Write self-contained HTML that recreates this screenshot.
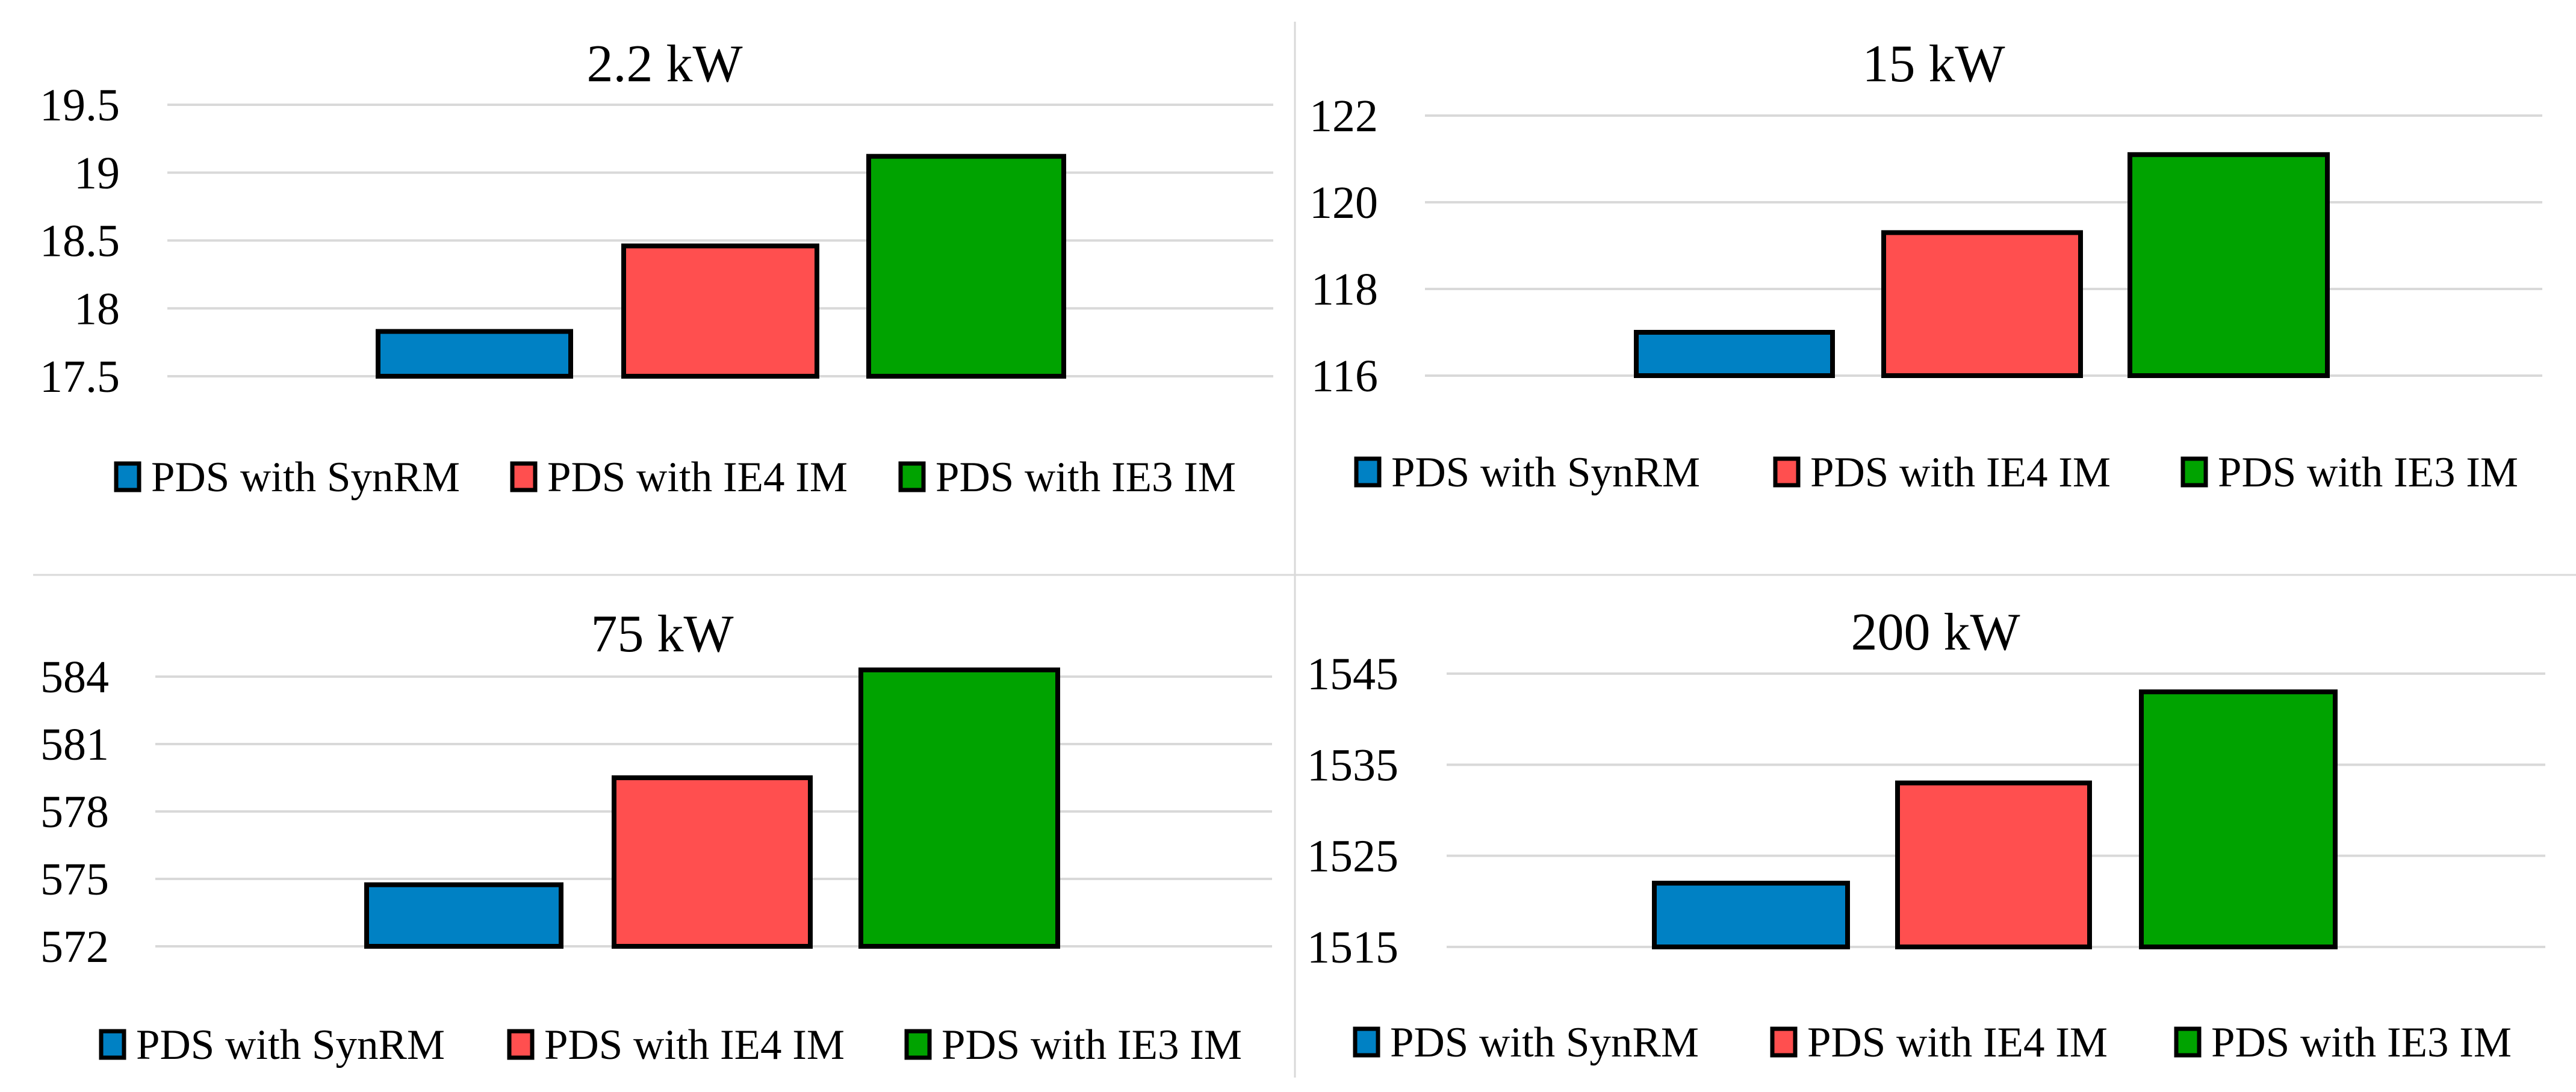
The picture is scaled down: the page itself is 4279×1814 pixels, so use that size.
<!DOCTYPE html>
<html><head><meta charset="utf-8"><style>
html,body{margin:0;padding:0;background:#fff;}
svg{display:block;}
svg text{font-family:"Liberation Serif","DejaVu Serif",serif;}
</style></head>
<body>
<svg id="chart" width="4279" height="1814" viewBox="0 0 4279 1814" xmlns="http://www.w3.org/2000/svg" font-family="Liberation Serif, serif">
<rect x="0" y="0" width="4279" height="1814" fill="#fff"/>
<line x1="2151" y1="36" x2="2151" y2="1790" stroke="#d9d9d9" stroke-width="3"/>
<line x1="55" y1="955" x2="4279" y2="955" stroke="#d9d9d9" stroke-width="3"/>
</svg>
<script>
var titles = ["2.2 kW", "15 kW", "75 kW", "200 kW"];
var seriesNames = ["PDS with SynRM", "PDS with IE4 IM", "PDS with IE3 IM"];
var seriesColors = ["#0081c4", "#ff4f4f", "#00a300"];
var values22 = [17.83, 18.46, 19.12];
var values15 = [117.0, 119.3, 121.1];
var values75 = [574.74, 579.5, 584.3];
var values200 = [1522, 1533, 1543];
var ticks22 = [17.5, 18, 18.5, 19, 19.5];
var ticks15 = [116, 118, 120, 122];
var ticks75 = [572, 575, 578, 581, 584];
var ticks200 = [1515, 1525, 1535, 1545];

var NS = "http://www.w3.org/2000/svg";
var svg = document.getElementById("chart");
var FONT = "'Liberation Serif', 'DejaVu Serif', serif";
function mk(tag, attrs, parent) {
  var e = document.createElementNS(NS, tag);
  for (var k in attrs) e.setAttribute(k, attrs[k]);
  if (tag === "text") e.style.fontFamily = FONT;
  (parent || svg).appendChild(e);
  return e;
}
var layouts = [
  {gx0:278, gx1:2115, yTop:174, yBot:625, tickX:199, titleX:1104, titleY:135, bars:[[628,948],[1036,1357],[1443,1767]], legY:792, leg:[193,851,1496], vals:values22, ticks:ticks22},
  {gx0:2367, gx1:4223, yTop:192, yBot:624, tickX:2289, titleX:3212, titleY:135, bars:[[2718,3044],[3129,3456],[3538,3866]], legY:784, leg:[2253,2949,3626], vals:values15, ticks:ticks15},
  {gx0:258, gx1:2113, yTop:1124, yBot:1572, tickX:181, titleX:1100, titleY:1082, bars:[[609,932],[1020,1346],[1430,1757]], legY:1735, leg:[168,846,1506], vals:values75, ticks:ticks75},
  {gx0:2403, gx1:4228, yTop:1119, yBot:1573, tickX:2323, titleX:3215, titleY:1079, bars:[[2748,3069],[3152,3471],[3557,3879]], legY:1731, leg:[2251,2944,3615], vals:values200, ticks:ticks200}
];
layouts.forEach(function(L, p) {
  var g = mk("g", {});
  
  
  var tmin = L.ticks[0], tmax = L.ticks[L.ticks.length - 1];
  function y(v) { return L.yBot - (v - tmin) / (tmax - tmin) * (L.yBot - L.yTop); }
  var t = mk("text", {x:L.titleX, y:L.titleY, "text-anchor":"middle", "font-size":88, fill:"#000"}, g);
  t.textContent = titles[p];
  
  
  L.ticks.forEach(function(tv) {
    var ln = mk("line", {x1:L.gx0, x2:L.gx1, y1:y(tv), y2:y(tv), stroke:"#d9d9d9", "stroke-width":4}, g);
    
    
    var tx = mk("text", {x:L.tickX, y:y(tv) + 26, "text-anchor":"end", "font-size":76, fill:"#000"}, g);
    tx.textContent = String(tv);
    
    
  });
  L.vals.forEach(function(v, i) {
    var b = L.bars[i];
    var r = mk("rect", {x:b[0], y:y(v), width:b[1] - b[0], height:L.yBot - y(v), fill:seriesColors[i], stroke:"#000", "stroke-width":8}, g);
    
    
  });
  seriesNames.forEach(function(n, i) {
    var lx = L.leg[i];
    var sq = mk("rect", {x:lx, y:L.legY - 22, width:38, height:44, fill:seriesColors[i], stroke:"#000", "stroke-width":7}, g);
    
    
    var lt = mk("text", {x:lx + 58, y:L.legY + 24, "font-size":71, fill:"#000"}, g);
    lt.textContent = n;
    
    
  });
});
</script>
</body></html>
